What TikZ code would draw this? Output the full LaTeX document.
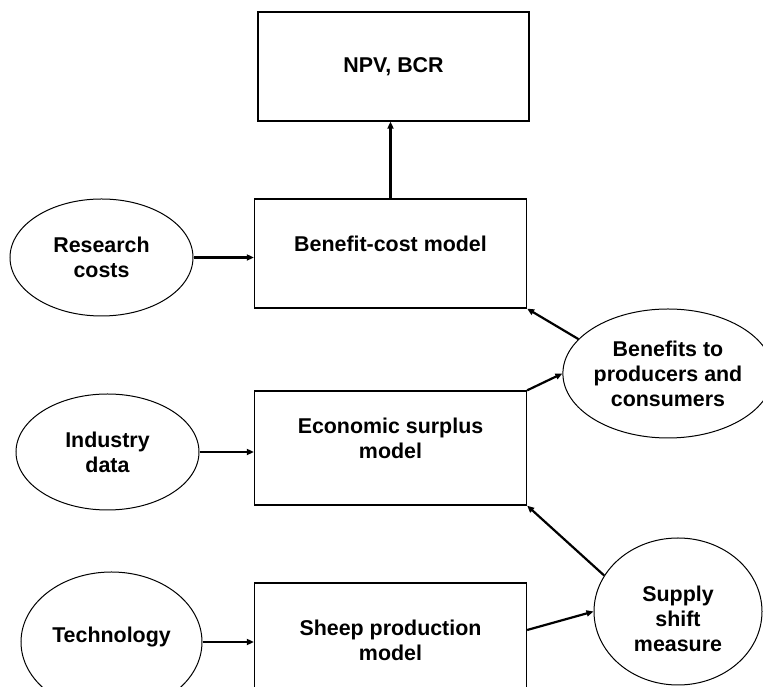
\documentclass[tikz,border=0pt]{standalone}
\usepackage{fontspec}
\setmainfont{Liberation Sans}
\usetikzlibrary{shapes.geometric,arrows.meta}

\begin{document}
\begin{tikzpicture}[x=1pt,y=1pt,
    font=\fontsize{21.4}{25}\selectfont\bfseries,
    modelbox/.style={draw, line width=1.3pt, minimum width=272pt, inner sep=0pt},
    inputoval/.style={draw, ellipse, line width=1pt, inner sep=0pt, align=center},
    link/.style={line width=2.2pt, -{Triangle[length=7pt,width=6pt]}},
    caption/.style 2 args={label={[yshift=#1,align=center]center:#2}}]
\useasboundingbox (0,0) rectangle (763,687);

% models
\node[modelbox, minimum width=271pt, minimum height=109pt] (npv) at (393.5,620.5) {NPV, BCR};
\node[modelbox, minimum height=109pt, caption={10pt}{Benefit-cost model}] (bcm) at (390.5,433.5) {};
\node[modelbox, minimum height=114pt, caption={10pt}{Economic surplus\\model}] (esm) at (390.5,239) {};
\node[modelbox, minimum height=134pt, caption={10pt}{Sheep production\\model}] (spm) at (390.5,37) {};

% inputs and outputs
\node[inputoval, minimum width=183pt, minimum height=117pt] (rc) at (101.5,429.5) {Research\\costs};
\node[inputoval, minimum width=183pt, minimum height=116pt] (id) at (107.5,235) {Industry\\data};
\node[inputoval, minimum width=181pt, minimum height=140pt, caption={5pt}{Technology}] (tech) at (111.5,45) {};
\node[inputoval, minimum width=192pt, minimum height=129pt] (ben) at (668,313.5) {Benefits to\\producers and\\consumers};
\node[inputoval, minimum width=168pt, minimum height=147pt, caption={-7pt}{Supply\\shift\\measure}] (sup) at (678,75.5) {};

\draw[link] (rc.east) -- (rc.east -| bcm.west);
\draw[link] (id.east) -- (id.east -| esm.west);
\draw[link] (tech.east) -- (tech.east -| spm.west);
\draw[link] (bcm.north) -- (bcm.north |- npv.south);

\draw[link] ([yshift=20pt]spm.east) -- (sup.west);
\draw[link] (sup.154) -- (esm.south east);
\draw[link] (esm.north east) -- (ben.west);
\draw[link] (ben.159) -- (bcm.south east);

\end{tikzpicture}
\end{document}
